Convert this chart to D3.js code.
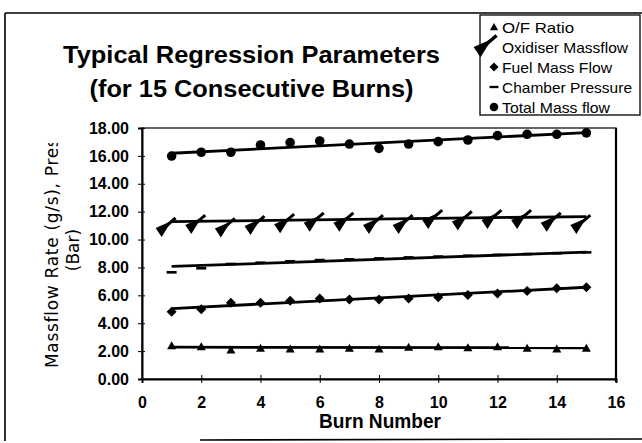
<!DOCTYPE html>
<html><head><meta charset="utf-8">
<script src="https://cdn.jsdelivr.net/npm/d3@7"></script>
<style>body{margin:0;background:#fff}svg{display:block}</style>
</head><body>
<svg id="c" width="642" height="443"></svg>
<script>
const burns    = [1,2,3,4,5,6,7,8,9,10,11,12,13,14,15];
const ofRatio  = [2.39,2.32,2.08,2.20,2.15,2.15,2.20,2.15,2.27,2.32,2.25,2.32,2.20,2.15,2.20];
const oxidiser = [10.83,11.04,10.80,10.97,11.10,11.20,11.20,11.04,11.04,11.40,11.30,11.40,11.40,11.20,11.04];
const fuel     = [4.83,5.00,5.47,5.47,5.62,5.78,5.71,5.71,5.78,5.86,6.02,6.14,6.31,6.50,6.58];
const chamber  = [7.65,7.94,8.25,8.34,8.44,8.53,8.58,8.65,8.72,8.78,8.84,8.90,8.96,9.02,9.08];
const total    = [15.99,16.26,16.26,16.78,16.95,17.07,16.85,16.54,16.85,17.02,17.14,17.45,17.55,17.55,17.65];
// regression (trend) line values read at burn 1 and burn 15
const seriesNames = ["O/F Ratio","Oxidiser Massflow","Fuel Mass Flow","Chamber Pressure","Total Mass flow"];
const trendStart  = [2.28, 11.29, 5.05, 8.07, 16.19];
const trendEnd    = [2.24, 11.65, 6.58, 9.10, 17.67];
const xTicks = [0,2,4,6,8,10,12,14,16];
const yTicks = [0,2,4,6,8,10,12,14,16,18];
const titleLines = ["Typical Regression Parameters","(for 15 Consecutive Burns)"];
const xTitle = "Burn Number";
const yTitle1 = "Massflow Rate (g/s), Pressure";
const yTitle2 = "(Bar)";

const svg = d3.select("#c");
const x = d3.scaleLinear().domain([0,16]).range([142,616]);
const y = d3.scaleLinear().domain([0,18]).range([379,128]);
const font = "'Liberation Sans', Arial, sans-serif";

// outer frame (partially faded in the scan)
svg.append("path").attr("d","M5,13 L642,13 M5,13 L5,441 M200,440 L642,439")
  .attr("stroke","#000").attr("stroke-width",1.6).attr("fill","none");

// title
const titleW = [377, 324];
svg.selectAll("text.title").data(titleLines).join("text").attr("class","title")
  .attr("x",251.5).attr("y",(d,i)=>63+i*34)
  .attr("text-anchor","middle").attr("font-family",font).attr("font-weight","bold")
  .attr("font-size",23.5).attr("textLength",(d,i)=>titleW[i]).attr("lengthAdjust","spacingAndGlyphs")
  .text(d=>d);

// plot frame
svg.append("rect").attr("x",x(0)).attr("y",y(18)).attr("width",x(16)-x(0)).attr("height",y(0)-y(18))
  .attr("fill","none").attr("stroke","#000").attr("stroke-width",1.2);
svg.append("line").attr("x1",x(16)).attr("x2",x(16)).attr("y1",y(18)).attr("y2",y(0)+3)
  .attr("stroke","#000").attr("stroke-width",2.2);

// axes
const yAxis = d3.axisLeft(y).tickValues(yTicks).tickFormat(d3.format(".2f")).tickSize(4).tickPadding(9);
const gy = svg.append("g").attr("transform",`translate(${x(0)},0)`).call(yAxis);
gy.select(".domain").attr("stroke-width",2);
gy.selectAll(".tick line").attr("x2",3).attr("x1",-4);
gy.selectAll("text").attr("font-family",font).attr("font-weight","bold").attr("font-size",16).attr("fill","#000");

const xAxis = d3.axisBottom(x).tickValues(xTicks).tickFormat(d3.format("d")).tickSize(4).tickPadding(14);
const gx = svg.append("g").attr("transform",`translate(0,${y(0)})`).call(xAxis);
gx.select(".domain").attr("stroke-width",2);
gx.selectAll(".tick line").attr("y1",-4).attr("y2",4);
gx.selectAll("text").attr("font-family",font).attr("font-weight","bold").attr("font-size",16).attr("fill","#000");

svg.append("text").attr("x",380).attr("y",428).attr("text-anchor","middle")
  .attr("font-family",font).attr("font-weight","bold").attr("font-size",20)
  .attr("textLength",122).attr("lengthAdjust","spacingAndGlyphs").text(xTitle);

// y title (clipped like the original)
svg.append("clipPath").attr("id","yclip").append("rect").attr("x",0).attr("y",143).attr("width",120).attr("height",270);
const yt = svg.append("g").attr("clip-path","url(#yclip)");
yt.append("text").attr("transform","translate(58,368) rotate(-90)")
  .attr("font-family","'DejaVu Sans', sans-serif").attr("font-size",17).attr("letter-spacing",0.7).text(yTitle1);
yt.append("text").attr("transform","translate(79,250) rotate(-90)").attr("text-anchor","middle")
  .attr("font-family","'DejaVu Sans', sans-serif").attr("font-size",17).text(yTitle2);

// trend lines
const series = [ofRatio, oxidiser, fuel, chamber, total];
svg.append("g").selectAll("line").data(series.map((s,i)=>i)).join("line")
  .attr("x1",x(burns[0])).attr("x2",x(burns[burns.length-1]))
  .attr("y1",i=>y(trendStart[i])).attr("y2",i=>y(trendEnd[i]))
  .attr("stroke","#000").attr("stroke-width",2.8);

// marker shapes
const triPath = "M0,-4.5 L4.5,3.5 L-4.5,3.5 Z";
const diaPath = "M0,-5 L5,0 L0,5 L-5,0 Z";
const dashPath = "M-5,0 L5,0";
const oxTri = "M-16,0 L0,-7 L-10,9 Z";
const oxStick = "M-9,1 L4,-10";

function drawMarker(g, type, s){
  if(type===0) g.append("path").attr("d",triPath).attr("transform",`scale(${s})`).attr("fill","#000");
  if(type===1){
    g.append("path").attr("d",oxTri).attr("transform",`scale(${s})`).attr("fill","#000");
    g.append("path").attr("d",oxStick).attr("transform",`scale(${s})`).attr("stroke","#000").attr("stroke-width",3);
  }
  if(type===2) g.append("path").attr("d",diaPath).attr("transform",`scale(${s})`).attr("fill","#000");
  if(type===3) g.append("path").attr("d",dashPath).attr("transform",`scale(${s})`).attr("stroke","#000").attr("stroke-width",2.6);
  if(type===4) g.append("circle").attr("r",4.8*s).attr("fill","#000");
}
series.forEach((s,si)=>{
  const g = svg.append("g");
  burns.forEach((b,i)=>{
    const m = g.append("g").attr("transform",`translate(${x(b)},${y(s[i])})`);
    drawMarker(m, si, 1);
  });
});

// legend
const lg = svg.append("g");
lg.append("rect").attr("x",480).attr("y",15).attr("width",160).attr("height",100)
  .attr("fill","#fff").attr("stroke","#000").attr("stroke-width",1.3);
const legW = [72,126,110,130,108];
seriesNames.forEach((n,i)=>{
  const yy = 27+i*20;
  const m = lg.append("g").attr("transform",`translate(${i===1?492:494},${yy})`);
  drawMarker(m, i, i===1?1.15:0.9);
  lg.append("text").attr("x",502).attr("y",yy+6).attr("font-family",font).attr("font-size",15)
    .attr("textLength",legW[i]).attr("lengthAdjust","spacingAndGlyphs").text(n);
});
</script>
</body></html>
